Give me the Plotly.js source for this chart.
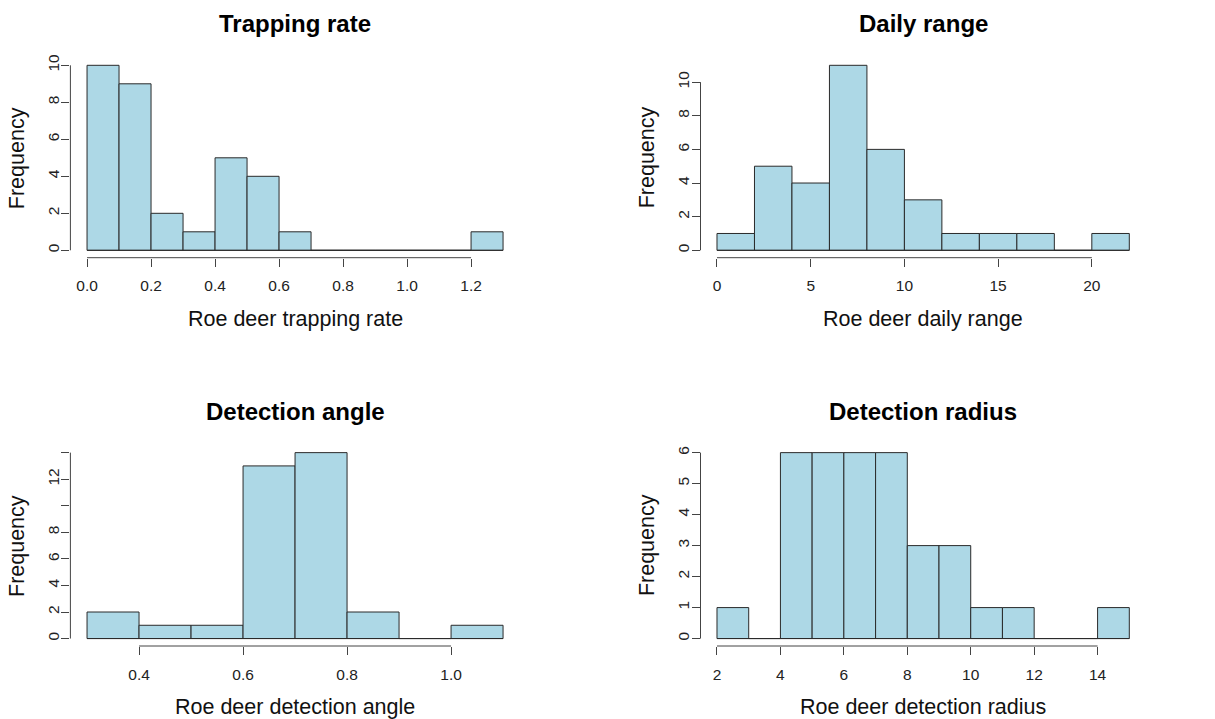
<!DOCTYPE html>
<html>
<head>
<meta charset="utf-8">
<script src="https://cdn.plot.ly/plotly-3.0.1.min.js"></script>
<style>html,body{margin:0;padding:0;background:#fff;}#chart{width:1215px;height:719px;}</style>
</head>
<body>
<div id="chart"></div>
<script>
// ---- Data (histogram bin edges and counts) ----
const trapBreaks = [0.0,0.1,0.2,0.3,0.4,0.5,0.6,0.7,0.8,0.9,1.0,1.1,1.2,1.3];
const trapCounts = [10,9,2,1,5,4,1,0,0,0,0,0,1];
const trapXTicks = [0.0,0.2,0.4,0.6,0.8,1.0,1.2];
const trapYTicks = [0,2,4,6,8,10];
const trapYText  = ['0','2','4','6','8','10'];

const rangeBreaks = [0,2,4,6,8,10,12,14,16,18,20,22];
const rangeCounts = [1,5,4,11,6,3,1,1,1,0,1];
const rangeXTicks = [0,5,10,15,20];
const rangeYTicks = [0,2,4,6,8,10];
const rangeYText  = ['0','2','4','6','8','10'];

const angleBreaks = [0.3,0.4,0.5,0.6,0.7,0.8,0.9,1.0,1.1];
const angleCounts = [2,1,1,13,14,2,0,1];
const angleXTicks = [0.4,0.6,0.8,1.0];
const angleYTicks = [0,2,4,6,8,10,12,14];
const angleYText  = ['0','2','4','6','8','','12',''];

const radiusBreaks = [2,3,4,5,6,7,8,9,10,11,12,13,14,15];
const radiusCounts = [1,0,6,6,6,6,3,3,1,1,0,0,1];
const radiusXTicks = [2,4,6,8,10,12,14];
const radiusYTicks = [0,1,2,3,4,5,6];
const radiusYText  = ['0','1','2','3','4','5','6'];

const titles = ['Trapping rate','Daily range','Detection angle','Detection radius'];
const xLabels = ['Roe deer trapping rate','Roe deer daily range','Roe deer detection angle','Roe deer detection radius'];
const yLabel = 'Frequency';

// ---- Layout geometry (pixels) ----
const W = 1215, H = 719;
const panels = [
  {breaks:trapBreaks, counts:trapCounts, xt:trapXTicks, yt:trapYTicks, ytxt:trapYText, fmt:'.1f', px:[70.4,519.7], py:[57.9,257.7]},
  {breaks:rangeBreaks, counts:rangeCounts, xt:rangeXTicks, yt:rangeYTicks, ytxt:rangeYText, fmt:'d', px:[700.5,1145.8], py:[57.9,257.7]},
  {breaks:angleBreaks, counts:angleCounts, xt:angleXTicks, yt:angleYTicks, ytxt:angleYText, fmt:'.1f', px:[70.4,519.7], py:[445.2,646.0]},
  {breaks:radiusBreaks, counts:radiusCounts, xt:radiusXTicks, yt:radiusYTicks, ytxt:radiusYText, fmt:'d', px:[700.5,1145.8], py:[445.2,646.0]}
];

const FONT = 'Liberation Sans, Arial, Helvetica, sans-serif';
const BAR_FILL = '#ADD8E6';
const BAR_LINE = '#2a2a2a';
const AXIS_COL = '#444444';

const traces = [];
const layout = {
  width: W, height: H,
  margin: {l:0, r:0, t:0, b:0},
  paper_bgcolor: '#ffffff', plot_bgcolor: '#ffffff',
  showlegend: false,
  font: {family: FONT, color: '#222222'},
  shapes: [], annotations: []
};

panels.forEach((p, i) => {
  const n = i + 1;
  const xa = n === 1 ? 'x' : 'x' + n;
  const ya = n === 1 ? 'y' : 'y' + n;
  const xKey = n === 1 ? 'xaxis' : 'xaxis' + n;
  const yKey = n === 1 ? 'yaxis' : 'yaxis' + n;

  const centers = [], widths = [];
  for (let k = 0; k < p.counts.length; k++) {
    centers.push((p.breaks[k] + p.breaks[k+1]) / 2);
    widths.push(p.breaks[k+1] - p.breaks[k]);
  }
  traces.push({
    type: 'bar', x: centers, y: p.counts, width: widths,
    xaxis: xa, yaxis: ya,
    marker: {color: BAR_FILL, line: {color: BAR_LINE, width: 1}},
    hoverinfo: 'x+y'
  });
  // baseline for empty bins (R draws zero-height rectangles as a line)
  const x0 = p.breaks[0], x1 = p.breaks[p.breaks.length - 1];
  traces.push({
    type: 'scatter', mode: 'lines', x: [x0, x1], y: [0, 0],
    xaxis: xa, yaxis: ya, line: {color: BAR_LINE, width: 1}, hoverinfo: 'skip'
  });

  const xspan = x1 - x0;
  const ymax = Math.max(...p.counts);
  const ytop = Math.max(ymax, p.yt[p.yt.length - 1]);
  layout[xKey] = {
    domain: [p.px[0] / W, p.px[1] / W],
    range: [x0 - 0.04 * xspan, x1 + 0.04 * xspan],
    anchor: ya,
    showgrid: false, zeroline: false, showline: false,
    ticks: 'outside', ticklen: 8, tickwidth: 1, tickcolor: AXIS_COL,
    tickmode: 'array', tickvals: p.xt,
    ticktext: p.xt.map(v => p.fmt === '.1f' ? v.toFixed(1) : String(v)),
    tickfont: {size: 15.5, color: '#222222', family: FONT},
    ticklabelstandoff: 6,
    fixedrange: true
  };
  layout[yKey] = {
    domain: [1 - p.py[1] / H, 1 - p.py[0] / H],
    range: [-0.04 * ytop, ytop * 1.04],
    anchor: xa,
    showgrid: false, zeroline: false, showline: false,
    ticks: 'outside', ticklen: 8, tickwidth: 1, tickcolor: AXIS_COL,
    tickmode: 'array', tickvals: p.yt, ticktext: p.ytxt,
    tickangle: -90,
    tickfont: {size: 15.5, color: '#222222', family: FONT},
    ticklabelstandoff: -4,
    fixedrange: true
  };

  // R-style axis lines spanning first to last tick
  layout.shapes.push({
    type: 'line', xref: xa, yref: ya + ' domain',
    x0: p.xt[0], x1: p.xt[p.xt.length - 1], y0: 0, y1: 0,
    line: {color: AXIS_COL, width: 1}
  });
  layout.shapes.push({
    type: 'line', xref: xa + ' domain', yref: ya,
    x0: 0, x1: 0, y0: p.yt[0], y1: p.yt[p.yt.length - 1],
    line: {color: AXIS_COL, width: 1}
  });

  // Panel title
  layout.annotations.push({
    text: '<b>' + titles[i] + '</b>', showarrow: false,
    xref: xa + ' domain', x: 0.5, xanchor: 'center',
    yref: 'paper', y: 1 - (p.py[0] - 34) / H, yanchor: 'middle',
    font: {size: 24, color: '#000000', family: FONT}
  });
  // x-axis title
  layout.annotations.push({
    text: xLabels[i], showarrow: false,
    xref: xa + ' domain', x: 0.5, xanchor: 'center',
    yref: 'paper', y: 1 - (p.py[1] + 61) / H, yanchor: 'middle',
    font: {size: 21.5, color: '#111111', family: FONT}
  });
  // y-axis title
  layout.annotations.push({
    text: yLabel, showarrow: false, textangle: -90,
    xref: 'paper', x: (p.px[0] - 54) / W, xanchor: 'center',
    yref: ya + ' domain', y: 0.5, yanchor: 'middle',
    font: {size: 21.5, color: '#111111', family: FONT}
  });
});

Plotly.newPlot('chart', traces, layout, {displayModeBar: false, staticPlot: true});
</script>
</body>
</html>
